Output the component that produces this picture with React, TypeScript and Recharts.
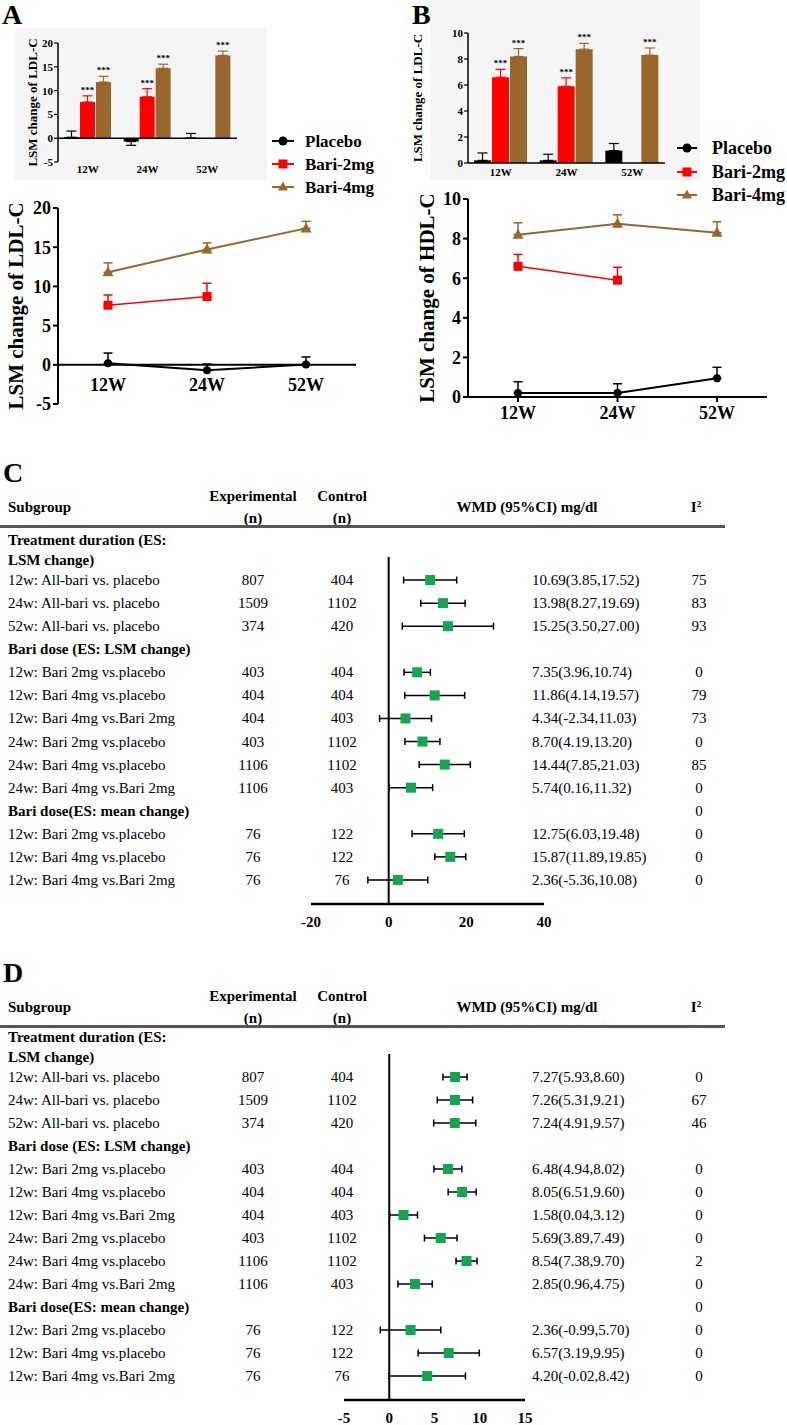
import React from 'react';
import {
  BarChart, Bar, LineChart, Line, ScatterChart, Scatter,
  XAxis, YAxis, ErrorBar, ReferenceLine, ReferenceDot, LabelList,
} from 'recharts';

const FONT = '"Liberation Serif", "Times New Roman", Times, serif';
const BLACK = '#000000';
const RED = '#ff0000';
const BROWN = '#99662b';
const GREEN = '#13a64f';

// ---------- Panels A / B data ----------
const weeks = ['12W', '24W', '52W'];
const seriesNames = ['Placebo', 'Bari-2mg', 'Bari-4mg'];
const seriesColors = [BLACK, RED, BROWN];
const seriesMarkers = ['circle', 'square', 'triangle'];

const ldlPlacebo = [0.2, -0.7, 0.05];
const ldlPlaceboSE = [1.3, 0.8, 0.95];
const ldlBari2 = [7.6, 8.7, null];
const ldlBari2SE = [1.3, 1.7, null];
const ldlBari4 = [11.8, 14.7, 17.4];
const ldlBari4SE = [1.2, 0.85, 0.9];

const hdlPlacebo = [0.2, 0.2, 0.95];
const hdlPlaceboSE = [0.57, 0.47, 0.55];
const hdlBari2 = [6.6, 5.9, null];
const hdlBari2SE = [0.6, 0.65, null];
const hdlBari4 = [8.2, 8.75, 8.3];
const hdlBari4SE = [0.6, 0.45, 0.55];

const ldlTicks = [-5, 0, 5, 10, 15, 20];
const hdlTicks = [0, 2, 4, 6, 8, 10];

// ---------- Panels C / D data ----------
const forestLabels = [
  'Treatment duration (ES:\nLSM change)',
  '12w: All-bari vs. placebo',
  '24w: All-bari vs. placebo',
  '52w: All-bari vs. placebo',
  'Bari dose (ES: LSM change)',
  '12w: Bari 2mg vs.placebo',
  '12w: Bari 4mg vs.placebo',
  '12w: Bari 4mg vs.Bari 2mg',
  '24w: Bari 2mg vs.placebo',
  '24w: Bari 4mg vs.placebo',
  '24w: Bari 4mg vs.Bari 2mg',
  'Bari dose(ES: mean change)',
  '12w: Bari 2mg vs.placebo',
  '12w: Bari 4mg vs.placebo',
  '12w: Bari 4mg vs.Bari 2mg',
];
const forestIsHeader = [true, false, false, false, true, false, false, false, false, false, false, true, false, false, false];
const forestExp = [null, 807, 1509, 374, null, 403, 404, 404, 403, 1106, 1106, null, 76, 76, 76];
const forestCtrl = [null, 404, 1102, 420, null, 404, 404, 403, 1102, 1102, 403, null, 122, 122, 76];

const ldlWmd = [null, 10.69, 13.98, 15.25, null, 7.35, 11.86, 4.34, 8.70, 14.44, 5.74, null, 12.75, 15.87, 2.36];
const ldlLow = [null, 3.85, 8.27, 3.50, null, 3.96, 4.14, -2.34, 4.19, 7.85, 0.16, null, 6.03, 11.89, -5.36];
const ldlHigh = [null, 17.52, 19.69, 27.00, null, 10.74, 19.57, 11.03, 13.20, 21.03, 11.32, null, 19.48, 19.85, 10.08];
const ldlI2 = [null, 75, 83, 93, null, 0, 79, 73, 0, 85, 0, 0, 0, 0, 0];
const ldlAxisTicks = [-20, 0, 20, 40];

const hdlWmd = [null, 7.27, 7.26, 7.24, null, 6.48, 8.05, 1.58, 5.69, 8.54, 2.85, null, 2.36, 6.57, 4.20];
const hdlLow = [null, 5.93, 5.31, 4.91, null, 4.94, 6.51, 0.04, 3.89, 7.38, 0.96, null, -0.99, 3.19, -0.02];
const hdlHigh = [null, 8.60, 9.21, 9.57, null, 8.02, 9.60, 3.12, 7.49, 9.70, 4.75, null, 5.70, 9.95, 8.42];
const hdlI2 = [null, 0, 67, 46, null, 0, 0, 0, 0, 2, 0, 0, 0, 0, 0];
const hdlAxisTicks = [-5, 0, 5, 10, 15];

// ---------- helpers ----------
function errPair(v: any, se: any, away: boolean) {
  if (v == null || se == null) return null;
  return away && v < 0 ? [se, 0] : [0, se];
}

function buildTable(p: any[], pse: any[], b2: any[], b2se: any[], b4: any[], b4se: any[], away: boolean) {
  return weeks.map((week, i) => ({
    week,
    placebo: p[i],
    placeboErr: errPair(p[i], pse[i], away),
    bari2: b2[i],
    bari2Err: errPair(b2[i], b2se[i], away),
    bari4: b4[i],
    bari4Err: errPair(b4[i], b4se[i], away),
    bari2Star: b2[i] == null ? null : [b2[i], b2se[i]],
    bari4Star: b4[i] == null ? null : [b4[i], b4se[i]],
  }));
}

const ldlBarData = buildTable(ldlPlacebo, ldlPlaceboSE, ldlBari2, ldlBari2SE, ldlBari4, ldlBari4SE, true);
const hdlBarData = buildTable(hdlPlacebo, hdlPlaceboSE, hdlBari2, hdlBari2SE, hdlBari4, hdlBari4SE, true);
const ldlLineData = buildTable(ldlPlacebo, ldlPlaceboSE, ldlBari2, ldlBari2SE, ldlBari4, ldlBari4SE, false);
const hdlLineData = buildTable(hdlPlacebo, hdlPlaceboSE, hdlBari2, hdlBari2SE, hdlBari4, hdlBari4SE, false);

function Marker({ type, cx, cy, color, size }: any) {
  if (type === 'circle') return <circle cx={cx} cy={cy} r={size / 2} fill={color} />;
  if (type === 'square') return <rect x={cx - size / 2} y={cy - size / 2} width={size} height={size} fill={color} />;
  return (
    <polygon
      points={`${cx},${cy - size * 0.6} ${cx + size * 0.55},${cy + size * 0.4} ${cx - size * 0.55},${cy + size * 0.4}`}
      fill={color}
    />
  );
}

const dotFor = (type: string, color: string, size: number) => (p: any) => {
  if (p.cx == null || p.cy == null || !Number.isFinite(p.cy) || p.value == null) return <g key={`d${p.index}`} />;
  return (
    <g key={`d${p.index}`}>
      <Marker type={type} cx={p.cx} cy={p.cy} color={color} size={size} />
    </g>
  );
};

const renderStars = (props: any) => {
  const vb = props.viewBox || props;
  const val = props.value;
  if (!vb || !Array.isArray(val) || val[0] == null || !vb.height) return null;
  const [v, se] = val;
  const ppu = vb.height / v;
  const cx = vb.x + vb.width / 2;
  const ty = vb.y - se * ppu - 3;
  return (
    <text x={cx} y={ty} textAnchor="middle" fontSize={9} fontWeight={700} fontFamily={FONT} fill="#000">
      ***
    </text>
  );
};

function Txt({ x, y, anchor = 'start', size = 15, bold = false, children }: any) {
  const tx = anchor === 'middle' ? '-50%' : anchor === 'end' ? '-100%' : '0';
  return (
    <div
      style={{
        position: 'absolute', left: x, top: y, transform: `translate(${tx}, -50%)`,
        fontFamily: FONT, fontSize: size, fontWeight: bold ? 700 : 400, lineHeight: 1,
        whiteSpace: 'nowrap', color: '#000',
      }}
    >
      {children}
    </div>
  );
}

function LegendBlock({ x1, x2, textX, ys, fontSize }: any) {
  const w = x2 - x1;
  return (
    <>
      {seriesNames.map((name, i) => (
        <React.Fragment key={name}>
          <svg style={{ position: 'absolute', left: x1, top: ys[i] - 8 }} width={w} height={16}>
            <line x1={0} x2={w} y1={8} y2={8} stroke={seriesColors[i]} strokeWidth={2} />
            <Marker type={seriesMarkers[i]} cx={w / 2} cy={8} color={seriesColors[i]} size={9} />
          </svg>
          <Txt x={textX} y={ys[i]} size={fontSize} bold>{name}</Txt>
        </React.Fragment>
      ))}
    </>
  );
}

const tickBold = (size: number) => ({ fontFamily: FONT, fontWeight: 700, fontSize: size, fill: '#000' });
const yLabel = (value: string, offset: number, size: number) => ({
  value, angle: -90, position: 'insideLeft', offset,
  style: { textAnchor: 'middle', fontFamily: FONT, fontWeight: 700, fontSize: size, fill: '#000' },
});

// ---------- inset bar chart ----------
function InsetBars({ data, ticks, domain, label, width, height, margin, yAxisWidth, labelOffset, barSize, zeroLine, bottomAxis, tickSz, tickMg }: any) {
  return (
    <BarChart width={width} height={height} data={data} margin={margin} barGap={1}>
      <XAxis
        dataKey="week" interval={0} height={bottomAxis ? 22 : 20}
        axisLine={bottomAxis ? { stroke: '#000', strokeWidth: 1.5 } : false}
        tickLine={false} tickSize={tickSz} tickMargin={tickMg} tick={tickBold(11)}
      />
      <YAxis
        domain={domain} ticks={ticks} interval={0} width={yAxisWidth} allowDataOverflow
        axisLine={{ stroke: '#000', strokeWidth: 1.5 }} tickLine={{ stroke: '#000', strokeWidth: 1.2 }}
        tickSize={4} tickMargin={1} tick={tickBold(11)}
        label={yLabel(label, labelOffset, 13)}
      />
      {zeroLine && <ReferenceLine y={0} stroke="#000" strokeWidth={1.5} />}
      <Bar dataKey="placebo" fill={BLACK} barSize={barSize} isAnimationActive={false}>
        <ErrorBar dataKey="placeboErr" direction="y" stroke={BLACK} strokeWidth={1.2} width={5} />
      </Bar>
      <Bar dataKey="bari2" fill={RED} barSize={barSize} isAnimationActive={false}>
        <ErrorBar dataKey="bari2Err" direction="y" stroke={RED} strokeWidth={1.2} width={5} />
        <LabelList dataKey="bari2Star" content={renderStars} />
      </Bar>
      <Bar dataKey="bari4" fill={BROWN} barSize={barSize} isAnimationActive={false}>
        <ErrorBar dataKey="bari4Err" direction="y" stroke={BROWN} strokeWidth={1.2} width={5} />
        <LabelList dataKey="bari4Star" content={renderStars} />
      </Bar>
    </BarChart>
  );
}

// ---------- trend line chart ----------
function Trend({ data, ticks, domain, label, width, height, margin, yAxisWidth, labelOffset, zeroAxis }: any) {
  return (
    <LineChart width={width} height={height} data={data} margin={margin}>
      <XAxis
        dataKey="week" interval={0} hide={zeroAxis} height={30} padding={{ left: 50, right: 50 }}
        axisLine={{ stroke: '#000', strokeWidth: 2 }} tickLine={{ stroke: '#000', strokeWidth: 2 }}
        tickSize={5} tickMargin={4} tick={tickBold(18)}
      />
      <YAxis
        domain={domain} ticks={ticks} interval={0} width={yAxisWidth} allowDataOverflow
        axisLine={{ stroke: '#000', strokeWidth: 2 }} tickLine={{ stroke: '#000', strokeWidth: 2 }}
        tickSize={5} tickMargin={2} tick={tickBold(18)}
        label={yLabel(label, labelOffset, 21)}
      />
      {zeroAxis && <ReferenceLine y={0} stroke="#000" strokeWidth={2} />}
      {zeroAxis && weeks.map((w) => (
        <ReferenceDot
          key={w} x={w} y={0} r={0}
          shape={(p: any) => (
            <text x={p.cx} y={p.cy + 20} textAnchor="middle" dominantBaseline="central"
              fontFamily={FONT} fontWeight={700} fontSize={18} fill="#000">{w}</text>
          )}
        />
      ))}
      <Line dataKey="placebo" stroke={BLACK} strokeWidth={2} dot={dotFor('circle', BLACK, 8)} isAnimationActive={false}>
        <ErrorBar dataKey="placeboErr" direction="y" stroke={BLACK} strokeWidth={1.5} width={4.5} />
      </Line>
      <Line dataKey="bari2" stroke={RED} strokeWidth={1.5} dot={dotFor('square', RED, 9)} isAnimationActive={false}>
        <ErrorBar dataKey="bari2Err" direction="y" stroke={RED} strokeWidth={1.5} width={4.5} />
      </Line>
      <Line dataKey="bari4" stroke={BROWN} strokeWidth={2} dot={dotFor('triangle', BROWN, 10)} isAnimationActive={false}>
        <ErrorBar dataKey="bari4Err" direction="y" stroke={BROWN} strokeWidth={1.5} width={4.5} />
      </Line>
    </LineChart>
  );
}

// ---------- forest plot ----------
const COL_LABEL = 8;
const COL_EXP = 253;
const COL_CTRL = 342;
const COL_WMD = 532;
const COL_I2 = 699;

function fmtCI(e: number, l: number, h: number) {
  return `${e.toFixed(2)}(${l.toFixed(2)},${h.toFixed(2)})`;
}

function Forest({ wmd, low, high, i2, domain, ticks, width, height, marginTop, plotLeft, plotRight, xAxisHeight }: any) {
  const rowIdx = forestLabels.map((_, i) => i);
  const points = rowIdx
    .filter((i) => wmd[i] != null)
    .map((i) => ({ row: i, est: wmd[i], ci: [wmd[i] - low[i], high[i] - wmd[i]] }));
  const yMax = forestLabels.length - 1 + 24 / 23;
  const tick = (p: any) => {
    const i = p.payload.value;
    const y = p.y;
    const hdr = forestIsHeader[i];
    const lines = forestLabels[i].split('\n');
    const common = { fontFamily: FONT, fontSize: 15, fill: '#000', dominantBaseline: 'central' as any };
    return (
      <g>
        {lines.map((ln, k) => (
          <text key={k} x={COL_LABEL} y={y + 3 - (lines.length - 1 - k) * 20 + (lines.length > 1 ? 0 : -3)}
            fontWeight={hdr ? 700 : 400} {...common}>{ln}</text>
        ))}
        {forestExp[i] != null && <text x={COL_EXP} y={y} textAnchor="middle" {...common}>{forestExp[i]}</text>}
        {forestCtrl[i] != null && <text x={COL_CTRL} y={y} textAnchor="middle" {...common}>{forestCtrl[i]}</text>}
        {wmd[i] != null && <text x={COL_WMD} y={y} {...common}>{fmtCI(wmd[i], low[i], high[i])}</text>}
        {i2[i] != null && <text x={COL_I2} y={y} textAnchor="middle" {...common}>{i2[i]}</text>}
      </g>
    );
  };
  return (
    <ScatterChart width={width} height={height} margin={{ top: marginTop, right: width - plotRight, bottom: 1, left: 0 }}>
      <XAxis
        type="number" dataKey="est" domain={domain} ticks={ticks} interval={0} allowDataOverflow
        height={xAxisHeight} axisLine={{ stroke: '#000', strokeWidth: 2.5 }} tickLine={false}
        tickSize={6} tickMargin={6} tick={tickBold(15)}
      />
      <YAxis
        type="number" dataKey="row" domain={[0, yMax]} reversed ticks={rowIdx} interval={0} allowDataOverflow
        width={plotLeft} axisLine={false} tickLine={false} tick={tick}
      />
      <ReferenceLine x={0} stroke="#000" strokeWidth={2} />
      <Scatter
        data={points} isAnimationActive={false}
        shape={(p: any) => <rect x={p.cx - 5} y={p.cy - 5} width={10} height={10} fill={GREEN} />}
      >
        <ErrorBar dataKey="ci" direction="x" stroke="#000" strokeWidth={1.5} width={3.5} />
      </Scatter>
    </ScatterChart>
  );
}

function ForestHeader({ y0, letter }: any) {
  return (
    <>
      <Txt x={3} y={y0 - 34} size={28} bold>{letter}</Txt>
      <Txt x={8} y={y0} bold>Subgroup</Txt>
      <Txt x={COL_EXP} y={y0 - 11} anchor="middle" bold>Experimental</Txt>
      <Txt x={COL_EXP} y={y0 + 11} anchor="middle" bold>(n)</Txt>
      <Txt x={COL_CTRL} y={y0 - 11} anchor="middle" bold>Control</Txt>
      <Txt x={COL_CTRL} y={y0 + 11} anchor="middle" bold>(n)</Txt>
      <Txt x={527} y={y0} anchor="middle" bold>WMD (95%CI) mg/dl</Txt>
      <Txt x={696} y={y0} anchor="middle" bold>
        I<sup style={{ fontSize: 9, verticalAlign: 'top', lineHeight: 1 }}>2</sup>
      </Txt>
      <div style={{ position: 'absolute', left: 0, top: y0 + 18, width: 725, height: 2.5, background: '#555' }} />
    </>
  );
}

export default function App() {
  return (
    <div style={{ position: 'absolute', left: 0, top: 0, width: 787, height: 1425, background: '#fff', overflow: 'hidden' }}>
      {/* inset backgrounds */}
      <div style={{ position: 'absolute', left: 15, top: 28, width: 252, height: 152, background: '#f5f5f5' }} />
      <div style={{ position: 'absolute', left: 430, top: 0, width: 270, height: 180, background: '#f5f5f5' }} />

      <Txt x={2} y={15} size={28} bold>A</Txt>
      <Txt x={412} y={15} size={28} bold>B</Txt>

      <div style={{ position: 'absolute', left: 0, top: 30 }}>
        <InsetBars
          data={ldlBarData} ticks={ldlTicks} domain={[-5, 20]} label="LSM change of LDL-C"
          width={265} height={152} margin={{ top: 13, right: 28, bottom: 0, left: 0 }}
          yAxisWidth={58} labelOffset={32} barSize={15} zeroLine bottomAxis={false} tickSz={1} tickMg={2}
        />
      </div>
      <div style={{ position: 'absolute', left: 400, top: 20 }}>
        <InsetBars
          data={hdlBarData} ticks={hdlTicks} domain={[0, 10]} label="LSM change of LDL-C"
          width={290} height={165} margin={{ top: 13, right: 25, bottom: 0, left: 0 }}
          yAxisWidth={68} labelOffset={17} barSize={17} zeroLine={false} bottomAxis tickSz={2} tickMg={3}
        />
      </div>

      <LegendBlock x1={272} x2={294} textX={305} ys={[141, 164, 187]} fontSize={17} />
      <LegendBlock x1={677} x2={697} textX={712} ys={[148, 172, 195]} fontSize={18} />

      <div style={{ position: 'absolute', left: 0, top: 190 }}>
        <Trend
          data={ldlLineData} ticks={ldlTicks} domain={[-5, 20]} label="LSM change of LDL-C"
          width={380} height={240} margin={{ top: 18, right: 24, bottom: 26, left: 0 }}
          yAxisWidth={58} labelOffset={16} zeroAxis
        />
      </div>
      <div style={{ position: 'absolute', left: 400, top: 180 }}>
        <Trend
          data={hdlLineData} ticks={hdlTicks} domain={[0, 10]} label="LSM change of HDL-C"
          width={387} height={250} margin={{ top: 19, right: 20, bottom: 3, left: 0 }}
          yAxisWidth={68} labelOffset={27} zeroAxis={false}
        />
      </div>

      <ForestHeader y0={507} letter="C" />
      <div style={{ position: 'absolute', left: 0, top: 450 }}>
        <Forest
          wmd={ldlWmd} low={ldlLow} high={ldlHigh} i2={ldlI2} domain={[-20, 40]} ticks={ldlAxisTicks}
          width={787} height={485} marginTop={107} plotLeft={311} plotRight={544} xAxisHeight={30}
        />
      </div>

      <ForestHeader y0={1007} letter="D" />
      <div style={{ position: 'absolute', left: 0, top: 940 }}>
        <Forest
          wmd={hdlWmd} low={hdlLow} high={hdlHigh} i2={hdlI2} domain={[-5, 15]} ticks={hdlAxisTicks}
          width={787} height={485} marginTop={114} plotLeft={344} plotRight={525} xAxisHeight={24}
        />
      </div>
    </div>
  );
}
